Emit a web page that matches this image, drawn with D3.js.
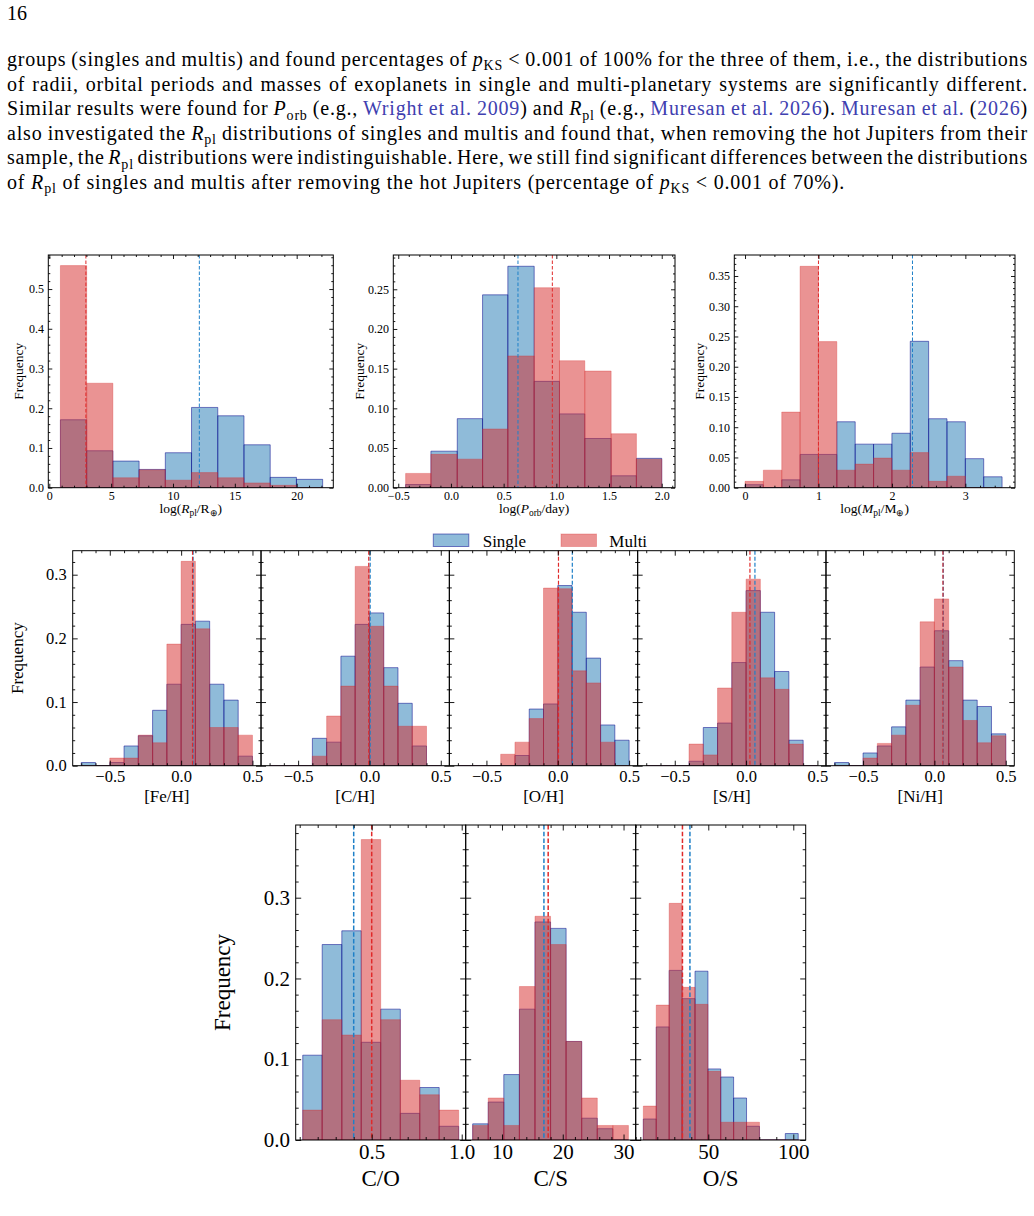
<!DOCTYPE html>
<html><head><meta charset="utf-8">
<script src="https://cdn.jsdelivr.net/npm/d3@7"></script>
<style>
body{margin:0;background:#fff;}
svg{display:block;}
</style></head><body>
<svg id="page" width="1034" height="1216"></svg>
<script>
// ---------------- DATA ----------------
// Top row
const rplEdges  = [0.9, 3.02, 5.14, 7.26, 9.38, 11.5, 13.62, 15.74, 17.86, 19.98, 22.1];
const rplSingle = [0.171, 0.093, 0.067, 0.046, 0.088, 0.202, 0.181, 0.108, 0.026, 0.021];
const rplMulti  = [0.559, 0.263, 0.025, 0.045, 0.019, 0.038, 0.025, 0.012, 0.006, 0.0];
const rplMedians = [12.13, 2.96];           // [single, multi]
const rplXTicks = [0, 5, 10, 15, 20];
const rplYTicks = [0, 0.1, 0.2, 0.3, 0.4, 0.5];

const porbEdges  = [-0.43, -0.19, 0.06, 0.30, 0.54, 0.79, 1.03, 1.27, 1.52, 1.76, 2.0];
const porbSingle = [0.004, 0.046, 0.087, 0.243, 0.279, 0.134, 0.093, 0.062, 0.015, 0.037];
const porbMulti  = [0.018, 0.042, 0.036, 0.074, 0.166, 0.252, 0.160, 0.147, 0.068, 0.036];
const porbMedians = [0.636, 0.962];
const porbXTicks = [-0.5, 0.0, 0.5, 1.0, 1.5, 2.0];
const porbYTicks = [0, 0.05, 0.10, 0.15, 0.20, 0.25];

const mplEdges  = [0, 0.25, 0.5, 0.75, 1.0, 1.25, 1.5, 1.75, 2.0, 2.25, 2.5, 2.75, 3.0, 3.25, 3.5];
const mplSingle = [0.005, 0, 0.013, 0.055, 0.055, 0.109, 0.072, 0.072, 0.090, 0.242, 0.114, 0.109, 0.048, 0.018];
const mplMulti  = [0.0105, 0.029, 0.125, 0.366, 0.2415, 0.029, 0.039, 0.049, 0.029, 0.058, 0.0105, 0.019, 0, 0];
const mplMedians = [2.28, 1.0];
const mplXTicks = [0, 1, 2, 3];
const mplYTicks = [0, 0.05, 0.10, 0.15, 0.20, 0.25, 0.30, 0.35];

// Middle row (shared bins)
const abundEdges = [-0.7, -0.6, -0.5, -0.4, -0.3, -0.2, -0.1, 0.0, 0.1, 0.2, 0.3, 0.4, 0.5];
const feSingle = [0.005, 0, 0.005, 0.031, 0.047, 0.087, 0.128, 0.222, 0.227, 0.128, 0.103, 0.015];
const feMulti  = [0, 0, 0.012, 0.012, 0.048, 0.036, 0.191, 0.321, 0.215, 0.060, 0.060, 0.048];
const chSingle = [0, 0, 0, 0.043, 0.037, 0.172, 0.222, 0.240, 0.154, 0.098, 0.031, 0];
const chMulti  = [0, 0, 0, 0.015, 0.078, 0.125, 0.313, 0.219, 0.125, 0.062, 0.062, 0];
const ohSingle = [0, 0, 0, 0, 0.016, 0.089, 0.097, 0.283, 0.241, 0.169, 0.064, 0.040];
const ohMulti  = [0, 0, 0, 0.018, 0.037, 0.074, 0.279, 0.278, 0.149, 0.130, 0.037, 0];
const shSingle = [0, 0, 0, 0.007, 0.060, 0.067, 0.162, 0.275, 0.241, 0.148, 0.040, 0];
const shMulti  = [0, 0, 0, 0.034, 0.017, 0.122, 0.241, 0.293, 0.138, 0.120, 0.034, 0];
const niSingle = [0.005, 0, 0.020, 0.031, 0.061, 0.103, 0.155, 0.212, 0.165, 0.103, 0.093, 0.050];
const niMulti  = [0, 0, 0.012, 0.035, 0.048, 0.095, 0.226, 0.262, 0.155, 0.071, 0.036, 0.047];
const feMedians = [0.084, 0.080];
const chMedians = [0.005, -0.005];
const ohMedians = [0.102, 0.005];
const shMedians = [0.062, 0.027];
const niMedians = [0.062, 0.060];
const abundXTicks = [-0.5, 0.0, 0.5];
const abundYTicks = [0.0, 0.1, 0.2, 0.3];
const abundLabels = ["[Fe/H]", "[C/H]", "[O/H]", "[S/H]", "[Ni/H]"];

// Bottom row
const coEdges  = [0.117, 0.225, 0.334, 0.442, 0.550, 0.659, 0.767, 0.875, 0.983];
const coSingle = [0.105, 0.242, 0.259, 0.121, 0.162, 0.033, 0.065, 0.017];
const coMulti  = [0.037, 0.149, 0.130, 0.372, 0.149, 0.074, 0.056, 0.037];
const coMedians = [0.40, 0.50];
const coXTicks = [0.5, 1.0];

const csEdges  = [5.18, 7.74, 10.30, 12.87, 15.43, 17.99, 20.55, 23.11, 25.68, 28.24, 30.80];
const csSingle = [0.020, 0.047, 0.081, 0.162, 0.270, 0.262, 0.122, 0.027, 0.014, 0];
const csMulti  = [0.018, 0.052, 0.018, 0.190, 0.277, 0.242, 0.122, 0.052, 0.018, 0.018];
const csMedians = [16.9, 17.6];
const csXTicks = [10, 20, 30];

const osEdges  = [11.8, 19.4, 27.0, 34.6, 42.2, 49.8, 57.3, 64.9, 72.5, 80.1, 87.7, 95.3, 102.9];
const osSingle = [0.026, 0.140, 0.210, 0.175, 0.209, 0.088, 0.078, 0.052, 0.017, 0, 0, 0.008];
const osMulti  = [0.042, 0.167, 0.293, 0.189, 0.168, 0.085, 0.022, 0.022, 0.022, 0, 0, 0];
const osMedians = [39.2, 34.8];
const osXTicks = [50, 100];
const ratioYTicks = [0.0, 0.1, 0.2, 0.3];
const ratioLabels = ["C/O", "C/S", "O/S"];

const legendLabels = ["Single", "Multi"];

// ---------------- STYLE ----------------
const FONT = "'Liberation Serif','Times New Roman',serif";
const SINGLE_FILL = "#1f77b4", SINGLE_EDGE = "#00008b";
const MULTI_FILL = "#d62728", MULTI_EDGE = "#d62728";
const SINGLE_MED = "#1f80c8", MULTI_MED = "#e02a2a";
const LINK = "#4040b0";

const svg = d3.select("#page");
let clipCount = 0;

function rich(textSel, segs, size) {
  let shifted = false;
  const off = size * 0.22;
  segs.forEach(s => {
    if (typeof s === "string") s = {t: s};
    const ts = textSel.append("tspan").text(s.t);
    if (s.i) ts.attr("font-style", "italic");
    if (s.link) ts.attr("fill", LINK);
    if (s.sub) {
      ts.attr("font-size", size * 0.7);
      if (!shifted) { ts.attr("dy", off); shifted = true; }
    } else if (shifted) { ts.attr("dy", -off); shifted = false; }
  });
}

function minorTicks(dom, step, majors) {
  const out = [];
  const start = Math.ceil(dom[0] / step - 1e-9) * step;
  for (let v = start; v <= dom[1] + 1e-9; v += step) {
    const r = Math.round(v / step) * step;
    if (!majors.some(m => Math.abs(m - r) < step * 0.01)) out.push(r);
  }
  return out;
}

function styleAxis(g, st) {
  g.select(".domain").remove();
  g.attr("font-family", FONT).attr("font-size", st.tickFont);
  g.selectAll("line").attr("stroke", "#000").attr("stroke-width", 0.9);
  g.selectAll("text").attr("fill", "#000");
}

function drawPanel(p) {
  const st = p.style;
  const g = svg.append("g");
  const x = d3.scaleLinear().domain(p.xdom).range([p.left, p.right]);
  const y = d3.scaleLinear().domain(p.ydom).range([p.bottom, p.top]);
  const cid = "clip" + (clipCount++);
  svg.append("clipPath").attr("id", cid).append("rect")
    .attr("x", p.left).attr("y", p.top).attr("width", p.right - p.left).attr("height", p.bottom - p.top);
  const plot = g.append("g").attr("clip-path", `url(#${cid})`);
  const bins = p.single.map((v, i) => ({x0: p.edges[i], x1: p.edges[i + 1], s: v, m: p.multi[i]}));
  const barPath = (d, v) => `M${x(d.x0)},${y(0)}V${y(v)}H${x(d.x1)}V${y(0)}Z`;
  plot.selectAll("path.s").data(bins).join("path").attr("class", "s")
    .attr("d", d => barPath(d, d.s))
    .attr("fill", SINGLE_FILL).attr("fill-opacity", 0.5)
    .attr("stroke", SINGLE_EDGE).attr("stroke-opacity", 0.5).attr("stroke-width", st.lw);
  plot.selectAll("path.m").data(bins).join("path").attr("class", "m")
    .attr("d", d => barPath(d, d.m))
    .attr("fill", MULTI_FILL).attr("fill-opacity", 0.5)
    .attr("stroke", MULTI_EDGE).attr("stroke-opacity", 0.3).attr("stroke-width", st.lw);
  // medians
  [[p.med[0], SINGLE_MED], [p.med[1], MULTI_MED]].forEach(([v, c]) => {
    plot.append("line").attr("x1", x(v)).attr("x2", x(v)).attr("y1", p.top).attr("y2", p.bottom)
      .attr("stroke", c).attr("stroke-width", st.dashW).attr("stroke-dasharray", st.dash);
  });
  // axes
  const xmin = minorTicks(p.xdom, p.xminor, p.xticks);
  const ymin = minorTicks(p.ydom, p.yminor, p.yticks);
  const B = g.append("g").attr("transform", `translate(0,${p.bottom})`);
  B.call(d3.axisBottom(x).tickValues(p.xticks).tickSize(-st.major).tickPadding(st.xpad).tickFormat(p.xfmt)); styleAxis(B, st);
  const Bm = g.append("g").attr("transform", `translate(0,${p.bottom})`);
  Bm.call(d3.axisBottom(x).tickValues(xmin).tickSize(-st.minor).tickFormat("")); styleAxis(Bm, st);
  const T = g.append("g").attr("transform", `translate(0,${p.top})`);
  T.call(d3.axisTop(x).tickValues(p.xticks).tickSize(-st.major).tickFormat("")); styleAxis(T, st);
  const Tm = g.append("g").attr("transform", `translate(0,${p.top})`);
  Tm.call(d3.axisTop(x).tickValues(xmin).tickSize(-st.minor).tickFormat("")); styleAxis(Tm, st);
  const L = g.append("g").attr("transform", `translate(${p.left},0)`);
  L.call(d3.axisLeft(y).tickValues(p.yticks).tickSize(-st.major).tickPadding(st.ypad).tickFormat(p.showY ? p.yfmt : "")); styleAxis(L, st);
  const Lm = g.append("g").attr("transform", `translate(${p.left},0)`);
  Lm.call(d3.axisLeft(y).tickValues(ymin).tickSize(-st.minor).tickFormat("")); styleAxis(Lm, st);
  const R = g.append("g").attr("transform", `translate(${p.right},0)`);
  R.call(d3.axisRight(y).tickValues(p.yticks).tickSize(-st.major).tickFormat("")); styleAxis(R, st);
  const Rm = g.append("g").attr("transform", `translate(${p.right},0)`);
  Rm.call(d3.axisRight(y).tickValues(ymin).tickSize(-st.minor).tickFormat("")); styleAxis(Rm, st);
  // frame
  g.append("rect").attr("x", p.left).attr("y", p.top).attr("width", p.right - p.left).attr("height", p.bottom - p.top)
    .attr("fill", "none").attr("stroke", "#000").attr("stroke-width", st.frameW);
  // labels
  const xl = g.append("text").attr("x", (p.left + p.right) / 2).attr("y", p.xlabelY)
    .attr("text-anchor", "middle").attr("font-family", FONT).attr("font-size", st.labelFont).attr("fill", "#000");
  rich(xl, p.xlabel, st.labelFont);
  if (p.ylabelX != null) {
    g.append("text").attr("transform", `translate(${p.ylabelX},${(p.top + p.bottom) / 2}) rotate(-90)`)
      .attr("text-anchor", "middle").attr("font-family", FONT).attr("font-size", st.labelFont).attr("fill", "#000")
      .text("Frequency");
  }
}

const row1 = {tickFont: 12, labelFont: 13.5, major: 4, minor: 2, xpad: 3.5, ypad: 4.3, lw: 1, dash: "3.5,2", dashW: 1, frameW: 1};
const row2 = {tickFont: 16.5, labelFont: 17, major: 5, minor: 2.5, xpad: 5, ypad: 6, lw: 1, dash: "4,2", dashW: 1.2, frameW: 1};
const row3 = {tickFont: 21, labelFont: 23, major: 5.5, minor: 3, xpad: 4.5, ypad: 5.7, lw: 1, dash: "4.5,2.2", dashW: 1.5, frameW: 1};

const f1 = d3.format(".1f"), f2 = d3.format(".2f"), fd = d3.format("d");

// top row
drawPanel({left: 48.3, right: 333.3, top: 255, bottom: 487.7, xdom: [-0.08, 22.96], ydom: [0, 0.5857],
  edges: rplEdges, single: rplSingle, multi: rplMulti, med: rplMedians,
  xticks: rplXTicks, xminor: 1, yticks: rplYTicks, yminor: 0.02, xfmt: fd, yfmt: f1, showY: true,
  xlabel: ["log(", {t: "R", i: true}, {t: "pl", sub: true}, "/R", {t: "⊕", sub: true}, ")"], xlabelY: 513, ylabelX: 22.5, style: row1});
drawPanel({left: 393.3, right: 675, top: 255, bottom: 487.7, xdom: [-0.547, 2.126], ydom: [0, 0.2932],
  edges: porbEdges, single: porbSingle, multi: porbMulti, med: porbMedians,
  xticks: porbXTicks, xminor: 0.1, yticks: porbYTicks, yminor: 0.01, xfmt: f1, yfmt: f2, showY: true,
  xlabel: ["log(", {t: "P", i: true}, {t: "orb", sub: true}, "/day)"], xlabelY: 513, ylabelX: 364, style: row1});
drawPanel({left: 734.3, right: 1015, top: 255, bottom: 487.7, xdom: [-0.146, 3.676], ydom: [0, 0.3847],
  edges: mplEdges, single: mplSingle, multi: mplMulti, med: mplMedians,
  xticks: mplXTicks, xminor: 0.2, yticks: mplYTicks, yminor: 0.01, xfmt: fd, yfmt: f2, showY: true,
  xlabel: ["log(", {t: "M", i: true}, {t: "pl", sub: true}, "/M", {t: "⊕", sub: true}, ")"], xlabelY: 513, ylabelX: 704, style: row1});

// middle row
const abundData = [[feSingle, feMulti, feMedians], [chSingle, chMulti, chMedians], [ohSingle, ohMulti, ohMedians],
                   [shSingle, shMulti, shMedians], [niSingle, niMulti, niMedians]];
const r2Left = 72.7, r2W = (1014.3 - 72.7) / 5;
abundData.forEach((d, k) => {
  drawPanel({left: r2Left + k * r2W, right: r2Left + (k + 1) * r2W, top: 550.7, bottom: 765.7,
    xdom: [-0.76, 0.56], ydom: [0, 0.3377], edges: abundEdges, single: d[0], multi: d[1], med: d[2],
    xticks: abundXTicks, xminor: 0.1, yticks: abundYTicks, yminor: 0.02, xfmt: f1, yfmt: f1, showY: k === 0,
    xlabel: [abundLabels[k]], xlabelY: 801.5, ylabelX: k === 0 ? 22.5 : null, style: row2});
});

// bottom row
const r3Left = 295.7, r3W = (805.7 - 295.7) / 3;
const ratioData = [
  {edges: coEdges, single: coSingle, multi: coMulti, med: coMedians, xticks: coXTicks, xdom: [0.0778, 1.0222], xminor: 0.1, xfmt: f1},
  {edges: csEdges, single: csSingle, multi: csMulti, med: csMedians, xticks: csXTicks, xdom: [4.03, 32.0], xminor: 2, xfmt: fd},
  {edges: osEdges, single: osSingle, multi: osMulti, med: osMedians, xticks: osXTicks, xdom: [7.3, 107.3], xminor: 10, xfmt: fd}];
ratioData.forEach((d, k) => {
  drawPanel(Object.assign({left: r3Left + k * r3W, right: r3Left + (k + 1) * r3W, top: 825, bottom: 1140,
    ydom: [0, 0.39], yticks: ratioYTicks, yminor: 0.02, yfmt: f1, showY: k === 0,
    xlabel: [ratioLabels[k]], xlabelY: 1186, ylabelX: k === 0 ? 230 : null, style: row3}, d));
});

// legend
const leg = svg.append("g").attr("font-family", FONT).attr("font-size", 17);
[[433.3, SINGLE_FILL, SINGLE_EDGE, 0.5, 482.7, legendLabels[0]], [561, MULTI_FILL, MULTI_EDGE, 0.3, 609.3, legendLabels[1]]]
.forEach(([px, fc, ec, eo, tx, lab]) => {
  leg.append("rect").attr("x", px).attr("y", 534).attr("width", 35.5).attr("height", 12.5)
    .attr("fill", fc).attr("fill-opacity", 0.5).attr("stroke", ec).attr("stroke-opacity", eo).attr("stroke-width", 1);
  leg.append("text").attr("x", tx).attr("y", 547).attr("fill", "#000").text(lab);
});

// ---------------- BODY TEXT ----------------
svg.append("text").attr("x", 7).attr("y", 20).attr("font-family", FONT).attr("font-size", 20).attr("fill", "#000").text("16");
const Rpl = [{t: "R", i: true}, {t: "pl", sub: true}];
const pKS = [{t: "p", i: true}, {t: "KS", sub: true}];
const bodyLines = [
  ["groups (singles and multis) and found percentages of ", ...pKS, " < 0.001 of 100% for the three of them, i.e., the distributions"],
  ["of radii, orbital periods and masses of exoplanets in single and multi-planetary systems are significantly different."],
  ["Similar results were found for ", {t: "P", i: true}, {t: "orb", sub: true}, " (e.g., ", {t: "Wright et al. 2009", link: true}, ") and ", ...Rpl,
   " (e.g., ", {t: "Muresan et al. 2026", link: true}, "). ", {t: "Muresan et al.", link: true}, " (", {t: "2026", link: true}, ")"],
  ["also investigated the ", ...Rpl, " distributions of singles and multis and found that, when removing the hot Jupiters from their"],
  ["sample, the ", ...Rpl, " distributions were indistinguishable. Here, we still find significant differences between the distributions"],
  ["of ", ...Rpl, " of singles and multis after removing the hot Jupiters (percentage of ", ...pKS, " < 0.001 of 70%)."]
];
const bodyBaselines = [66, 90.6, 115.2, 139.8, 164.4, 189];
const lastLineEnd = 845;   // the unjustified last line ends here in the reference
const texts = bodyLines.map((segs, i) => {
  const t = svg.append("text").attr("x", 7).attr("y", bodyBaselines[i]).attr("font-family", FONT)
    .attr("font-size", 20).attr("fill", "#000");
  rich(t, segs, 20);
  return t;
});
// letter-spacing chosen so the natural (unjustified) last line matches the reference width
const lastT = texts[texts.length - 1];
const wLast = lastT.node().getComputedTextLength();
const ls = (lastLineEnd - 7 - wLast) / lastT.text().length;
texts.forEach((t, i) => {
  const w0 = t.node().getComputedTextLength();
  const nChar = t.text().length;
  t.style("letter-spacing", ls + "px");
  if (i < texts.length - 1) {
    const w = w0 + ls * nChar;
    const n = (t.text().match(/ /g) || []).length;
    t.style("word-spacing", ((1028 - 7 - w) / n) + "px");
  }
});
</script></body></html>
